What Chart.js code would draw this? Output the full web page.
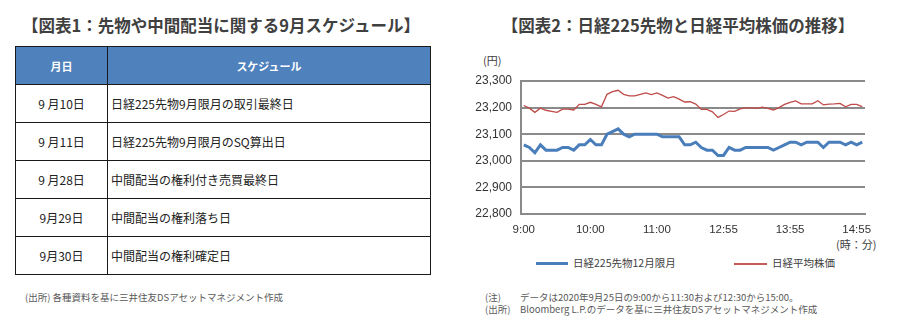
<!DOCTYPE html>
<html>
<head>
<meta charset="utf-8">
<script src="https://cdn.jsdelivr.net/npm/chart.js@4/dist/chart.umd.min.js"></script>
<style>
  body { margin: 0; width: 912px; height: 331px; background: #fff; position: relative; overflow: hidden;
         font-family: "Noto Sans CJK JP", "Noto Sans", sans-serif; color: #404040; }
  .abs { position: absolute; white-space: nowrap; }
  .title { font-size: 16.5px; font-weight: bold; color: #404040; top: 13px; text-align: center; }
  #sched { position: absolute; left: 15px; top: 46px; border-collapse: collapse; }
  #sched th, #sched td { border: 1px solid #1a1a1a; padding: 0; height: 37px; font-size: 12px; color: #222; font-weight: normal; }
  #sched th { background: #4f81bd; color: #fff; font-weight: bold; font-size: 11px; text-align: center; }
  #sched td.d { text-align: center; width: 91px; }
  #sched td.s { text-align: left; padding-left: 3px; width: 319px; }
  .note { font-size: 9.5px; color: #595959; }
  #legend { position: absolute; top: 255px; left: 0; width: 912px; height: 16px; }
  .lg { position: absolute; font-size: 10.5px; color: #404040; top: 0; line-height: 16px; }
  .sw { position: absolute; }
</style>
</head>
<body>

<div class="abs title" style="left:13px;width:416px;">【図表1：先物や中間配当に関する9月スケジュール】</div>
<div class="abs title" style="left:470px;width:416px;">【図表2：日経225先物と日経平均株価の推移】</div>

<table id="sched"><thead><tr><th>月日</th><th>スケジュール</th></tr></thead><tbody id="schedBody"></tbody></table>

<div class="abs note" style="left:25px;top:290px;">(出所) 各種資料を基に三井住友DSアセットマネジメント作成</div>

<div class="abs" style="left:483px;top:52px;font-size:11px;color:#404040;">(円)</div>
<div class="abs" style="left:836px;top:236px;font-size:11px;color:#404040;">(時：分)</div>

<div style="position:absolute;left:460px;top:60px;width:420px;height:178px;">
  <canvas id="NikkeiChart"></canvas>
</div>

<div id="legend">
  <div class="sw" style="left:536px;top:7px;width:32px;height:3px;background:#4a7ebb;"></div>
  <div class="lg" style="left:573px;">日経225先物12月限月</div>
  <div class="sw" style="left:734px;top:8px;width:33px;height:2px;background:#c75a57;"></div>
  <div class="lg" style="left:772px;">日経平均株価</div>
</div>

<div class="abs note" style="left:485px;top:290px;">(注)</div>
<div class="abs note" style="left:520px;top:290px;">データは2020年9月25日の9:00から11:30および12:30から15:00。</div>
<div class="abs note" style="left:485px;top:302px;">(出所)</div>
<div class="abs note" style="left:520px;top:302px;">Bloomberg L.P.のデータを基に三井住友DSアセットマネジメント作成</div>

<script>
// table 1
var schedDates = ['9 月10日', '9 月11日', '9 月28日', '9月29日', '9月30日']
var schedEvents = [
  '日経225先物9月限月の取引最終日',
  '日経225先物9月限月のSQ算出日',
  '中間配当の権利付き売買最終日',
  '中間配当の権利落ち日',
  '中間配当の権利確定日'
]
var rows = ''
for (var i = 0; i < schedDates.length; i++){
  rows += '<tr><td class="d">' + schedDates[i] + '</td><td class="s">' + schedEvents[i] + '</td></tr>'
}
document.querySelector('#schedBody').innerHTML = rows

// chart 2 : 5 minute bars, 9:00-11:30 and 12:30-15:00
var timeLabels = [
  '9:00','9:05','9:10','9:15','9:20','9:25','9:30','9:35','9:40','9:45','9:50','9:55',
  '10:00','10:05','10:10','10:15','10:20','10:25','10:30','10:35','10:40','10:45','10:50','10:55',
  '11:00','11:05','11:10','11:15','11:20','11:25','11:30',
  '12:30','12:35','12:40','12:45','12:50',
  '12:55','13:00','13:05','13:10','13:15','13:20','13:25','13:30','13:35','13:40','13:45','13:50',
  '13:55','14:00','14:05','14:10','14:15','14:20','14:25','14:30','14:35','14:40','14:45','14:50',
  '14:55','15:00'
]
var shownTicks = ['9:00', '10:00', '11:00', '12:55', '13:55', '14:55']

var futuresValues = [
  23060, 23050, 23030, 23060, 23040, 23040, 23040, 23050, 23050, 23040, 23060, 23060,
  23080, 23060, 23060, 23100, 23110, 23120, 23100, 23090, 23100, 23100, 23100, 23100,
  23100, 23090, 23090, 23090, 23090, 23060, 23060,
  23070, 23050, 23040, 23040, 23020,
  23020, 23050, 23040, 23040, 23050, 23050, 23050, 23050, 23050, 23040, 23050, 23060,
  23070, 23070, 23060, 23070, 23070, 23070, 23050, 23070, 23070, 23070, 23060, 23070,
  23060, 23070
]
var nikkeiValues = [
  23208, 23198, 23182, 23198, 23190, 23186, 23182, 23194, 23194, 23191, 23212, 23212,
  23220, 23212, 23203, 23250, 23260, 23265, 23250, 23244, 23244, 23250, 23255, 23249,
  23255, 23246, 23236, 23241, 23232, 23221, 23222,
  23213, 23193, 23193, 23184, 23163,
  23174, 23187, 23186, 23195, 23199, 23199, 23197, 23202, 23197, 23191, 23200, 23212,
  23220, 23225, 23214, 23214, 23214, 23226, 23210, 23213, 23214, 23216, 23203, 23212,
  23212, 23204
]

var gridColor = '#8a8a8a'

new Chart('NikkeiChart', {
  type: 'line',
  data: {
    labels: timeLabels,
    datasets: [
      {
        label: '日経225先物12月限月',
        data: futuresValues,
        borderColor: '#4a7ebb',
        borderWidth: 3,
        pointRadius: 0,
        tension: 0,
      },
      {
        label: '日経平均株価',
        data: nikkeiValues,
        borderColor: '#be4b48',
        borderWidth: 1.3,
        pointRadius: 0,
        tension: 0,
      },
    ],
  },
  options: {
    responsive: true,
    maintainAspectRatio: false,
    animation: false,
    plugins: {
      legend: { display: false },
      tooltip: { enabled: false },
    },
    layout: {
      padding: { top: 21, right: 15, left: 0, bottom: 0 },
    },
    scales: {
      x: {
        offset: true,
        afterFit: (scale) => { scale.height = 24 },
        grid: { display: false, drawTicks: false },
        border: { display: true, color: gridColor, width: 2 },
        ticks: {
          autoSkip: false,
          maxRotation: 0,
          padding: 9,
          color: '#333',
          font: { family: 'Liberation Sans', size: 11.5 },
          callback: function(value, index) {
            var lbl = timeLabels[index]
            return shownTicks.indexOf(lbl) >= 0 ? lbl : ''
          },
        },
      },
      y: {
        min: 22800,
        max: 23300,
        afterFit: (scale) => { scale.width = 61 },
        grid: { color: gridColor, lineWidth: 2, drawTicks: false },
        border: { display: true, color: gridColor, width: 2 },
        ticks: {
          stepSize: 100,
          padding: 9,
          color: '#333',
          font: { family: 'Liberation Sans', size: 12 },
          callback: (v) => v.toLocaleString('en-US'),
        },
      },
    },
  },
});
</script>
</body>
</html>
